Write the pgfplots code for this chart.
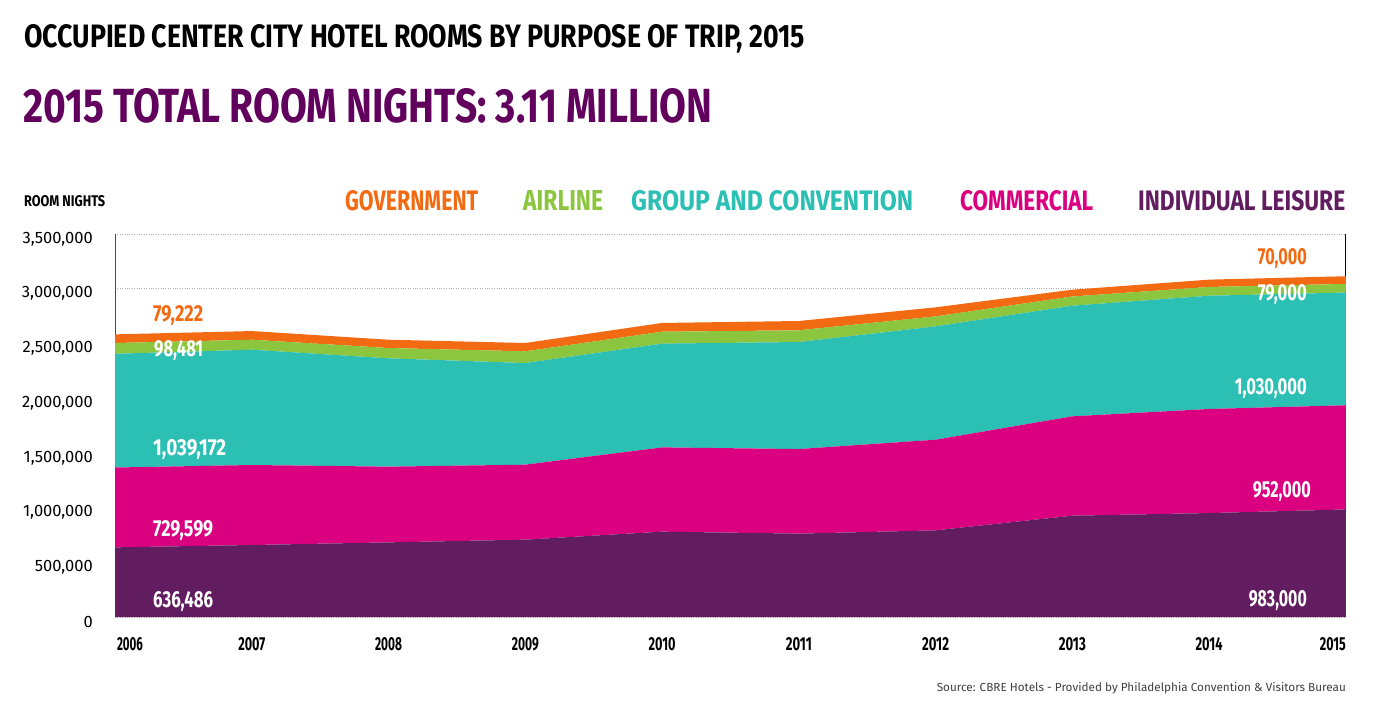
\documentclass[border=0pt]{standalone}
\usepackage{fontspec}
\setmainfont{Fira Sans}
\newfontfamily\cond{Fira Sans}[FakeStretch=0.75]
\usepackage{graphicx}
\usepackage{pgfplots}
\pgfplotsset{compat=1.18}
\definecolor{cPurple}{HTML}{611D5F}
\definecolor{cMagenta}{HTML}{DB0080}
\definecolor{cTeal}{HTML}{2CBFB4}
\definecolor{cGreen}{HTML}{8CC63E}
\definecolor{cOrange}{HTML}{F26A12}
\definecolor{cTitle}{HTML}{62005E}
\newcommand\fit[3]{\resizebox{#1}{#2}{\cond\bfseries #3}}
\newcommand\yr[2]{\resizebox{#1}{13pt}{\cond\bfseries #2}}
\begin{document}
\begin{tikzpicture}
\path[use as bounding box] (0pt,0pt) rectangle (1376pt,-706pt);
\begin{axis}[
  at={(115pt,-617pt)}, anchor=south west,
  scale only axis, width=1231pt, height=383pt,
  xmin=2006, xmax=2015, ymin=0, ymax=3500000,
  stack plots=y,
  axis line style={draw=none},
  tick style={draw=none},
  ytick={0,500000,...,3500000},
  scaled y ticks=false,
  /pgf/number format/fixed,
  /pgf/number format/1000 sep={,},
  /pgf/number format/assume math mode=true,
  yticklabel style={font=\fontsize{16.5}{16.5}\selectfont, anchor=east, inner sep=0pt, xshift=-22pt, yshift=-5pt},
  xtick={2006,2007,2008,2009,2010,2011,2012,2013,2014,2015},
  xticklabels={{\makebox[0pt][l]{\hspace{2pt}\yr{26pt}{2006}}},{\yr{27pt}{2007}},{\yr{27pt}{2008}},{\yr{27pt}{2009}},{\yr{27pt}{2010}},{\yr{26pt}{2011}},{\yr{27pt}{2012}},{\yr{27pt}{2013}},{\yr{27pt}{2014}},{\makebox[0pt][r]{\yr{26pt}{2015}}}},
  xticklabel style={anchor=base, inner sep=0pt, yshift=-33pt},
  ymajorgrids,
  grid style={dotted, black!30, line width=0.7pt},
]
\addplot[fill=cPurple, draw=none] coordinates {(2006,636486) (2007,658000) (2008,682000) (2009,707000) (2010,780000) (2011,762000) (2012,792000) (2013,926000) (2014,950000) (2015,983000)} \closedcycle;
\addplot[fill=cMagenta, draw=none] coordinates {(2006,729599) (2007,731000) (2008,692000) (2009,685000) (2010,770000) (2011,773000) (2012,828000) (2013,908000) (2014,951000) (2015,952000)} \closedcycle;
\addplot[fill=cTeal, draw=none] coordinates {(2006,1039172) (2007,1054000) (2008,990000) (2009,929000) (2010,948000) (2011,978000) (2012,1036000) (2013,1011000) (2014,1035000) (2015,1030000)} \closedcycle;
\addplot[fill=cGreen, draw=none] coordinates {(2006,98481) (2007,91000) (2008,94000) (2009,107000) (2010,109000) (2011,107000) (2012,91000) (2013,84000) (2014,80000) (2015,79000)} \closedcycle;
\addplot[fill=cOrange, draw=none] coordinates {(2006,79222) (2007,79000) (2008,76000) (2009,76000) (2010,80000) (2011,85000) (2012,83000) (2013,62000) (2014,67000) (2015,70000)} \closedcycle;
\draw[black!70, line width=1.3pt] (rel axis cs:0,0) -- (rel axis cs:0,1);
\draw[black, line width=1.3pt] (rel axis cs:1,0) -- (rel axis cs:1,1);
\end{axis}
% titles
\node[anchor=base west, inner sep=0pt] at (24pt,-48pt) {\fit{781pt}{23pt}{OCCUPIED CENTER CITY HOTEL ROOMS BY PURPOSE OF TRIP, 2015}};
\node[anchor=base west, inner sep=0pt, text=cTitle] at (23pt,-122pt) {\fit{689pt}{34pt}{2015 TOTAL ROOM NIGHTS: 3.11 MILLION}};
\node[anchor=base west, inner sep=0pt] at (24pt,-206pt) {\fit{81pt}{11pt}{ROOM NIGHTS}};
% legend
\node[anchor=base west, inner sep=0pt, text=cOrange] at (345pt,-210pt) {\fit{133pt}{20pt}{GOVERNMENT}};
\node[anchor=base west, inner sep=0pt, text=cGreen] at (523pt,-210pt) {\fit{80pt}{20pt}{AIRLINE}};
\node[anchor=base west, inner sep=0pt, text=cTeal] at (631pt,-210pt) {\fit{282pt}{20pt}{GROUP AND CONVENTION}};
\node[anchor=base west, inner sep=0pt, text=cMagenta] at (960pt,-210pt) {\fit{133pt}{20pt}{COMMERCIAL}};
\node[anchor=base west, inner sep=0pt, text=cPurple] at (1138pt,-210pt) {\fit{207pt}{20pt}{INDIVIDUAL LEISURE}};
% data labels 2006
\node[anchor=base west, inner sep=0pt, text=cOrange] at (153pt,-321pt) {\fit{50pt}{16pt}{79,222}};
\node[anchor=base west, inner sep=0pt, text=white] at (154pt,-356pt) {\fit{49pt}{16pt}{98,481}};
\node[anchor=base west, inner sep=0pt, text=white] at (153pt,-455pt) {\fit{73pt}{16pt}{1,039,172}};
\node[anchor=base west, inner sep=0pt, text=white] at (153pt,-536pt) {\fit{60pt}{16pt}{729,599}};
\node[anchor=base west, inner sep=0pt, text=white] at (153pt,-607pt) {\fit{60pt}{16pt}{636,486}};
% data labels 2015
\node[anchor=base east, inner sep=0pt, text=cOrange] at (1307pt,-264pt) {\fit{49pt}{16pt}{70,000}};
\node[anchor=base east, inner sep=0pt, text=white] at (1307pt,-300pt) {\fit{49pt}{16pt}{79,000}};
\node[anchor=base east, inner sep=0pt, text=white] at (1307pt,-394pt) {\fit{72pt}{16pt}{1,030,000}};
\node[anchor=base east, inner sep=0pt, text=white] at (1311pt,-497pt) {\fit{58pt}{16pt}{952,000}};
\node[anchor=base east, inner sep=0pt, text=white] at (1307pt,-606pt) {\fit{58pt}{16pt}{983,000}};
% source
\node[anchor=base east, inner sep=0pt, text=black!75] at (1346pt,-691pt) {\resizebox{409pt}{!}{\fontsize{12}{12}\selectfont Source: CBRE Hotels - Provided by Philadelphia Convention \& Visitors Bureau}};
\end{tikzpicture}
\end{document}
